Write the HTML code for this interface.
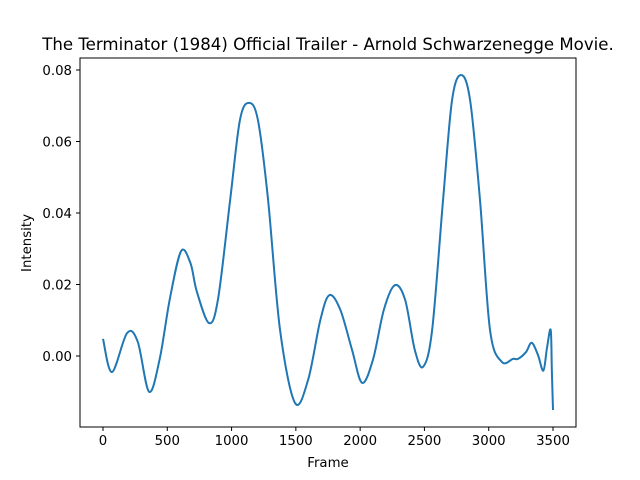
<!DOCTYPE html>
<html><head><meta charset="utf-8"><style>
body{margin:0;background:#fff}
svg{display:block;font-family:"DejaVu Sans","Liberation Sans",sans-serif}
</style></head><body>
<svg id="chart" width="640" height="480">
<rect width="640" height="480" fill="#fff"/>
<text x="328" y="50" text-anchor="middle" font-size="16.6">The Terminator (1984) Official Trailer - Arnold Schwarzenegge Movie.</text>
<g id="xt"></g>
<g id="yt"></g>
<path id="line" fill="none" stroke="#1f77b4" stroke-width="2" stroke-linejoin="round"/>
<rect x="80" y="58" width="496" height="369" fill="none" stroke="#000" stroke-width="1"/>
<text x="328" y="467" text-anchor="middle" font-size="13.3">Frame</text>
<text transform="translate(31,243) rotate(-90)" text-anchor="middle" font-size="13.3">Intensity</text>
</svg>
<script>
const frames=[0,70,187,270,358,440,520,607,680,730,825,895,990,1065,1135,1205,1283,1377,1493,1595,1690,1760,1845,1937,2015,2100,2185,2270,2350,2425,2490,2560,2645,2715,2785,2855,2932,3010,3101,3189,3228,3290,3334,3383,3425,3453,3482,3491,3500];
const intensity=[0.0048,-0.0045,0.0064,0.004,-0.010,-0.001,0.016,0.0293,0.026,0.018,0.0092,0.016,0.044,0.066,0.0708,0.066,0.044,0.0073,-0.0131,-0.0067,0.010,0.017,0.013,0.0017,-0.0075,-0.001,0.013,0.0198,0.0157,0.0017,-0.003,0.0073,0.0437,0.0716,0.0786,0.0716,0.0437,0.0073,-0.0016,-0.0008,-0.0008,0.0011,0.0037,0.0003,-0.0041,0.0022,0.0073,-0.004,-0.0151];
const xTicks=[0,500,1000,1500,2000,2500,3000,3500];
const yTicks=[0,0.02,0.04,0.06,0.08];
const yLabels=["0.00","0.02","0.04","0.06","0.08"];
const X=v=>103+v*450/3500;
const Y=v=>356-v*3575;
const ns="http://www.w3.org/2000/svg";
function mk(t,a,p){const e=document.createElementNS(ns,t);for(const k in a)e.setAttribute(k,a[k]);p.appendChild(e);return e;}
const xt=document.getElementById('xt'),yt=document.getElementById('yt');
xTicks.forEach(v=>{
 const l=mk('line',{x1:X(v),x2:X(v),y1:427,y2:431,stroke:'#000'},xt);
 
 
 const t=mk('text',{x:X(v),y:445,'text-anchor':'middle','font-size':'13.3'},xt);t.textContent=v;
 
 
});
yTicks.forEach((v,i)=>{
 const l=mk('line',{x1:76,x2:80,y1:Y(v),y2:Y(v),stroke:'#000'},yt);
 
 
 const t=mk('text',{x:72,y:Y(v)+5,'text-anchor':'end','font-size':'13.3'},yt);t.textContent=yLabels[i];
 
 
});
const P=frames.map((f,i)=>[X(f),Y(intensity[i])]);
let d='M'+P[0][0]+','+P[0][1];
for(let i=0;i<P.length-1;i++){
 const p0=P[Math.max(0,i-1)],p1=P[i],p2=P[i+1],p3=P[Math.min(P.length-1,i+2)];
 const c1=[p1[0]+(p2[0]-p0[0])/6,p1[1]+(p2[1]-p0[1])/6];
 const c2=[p2[0]-(p3[0]-p1[0])/6,p2[1]-(p3[1]-p1[1])/6];
 d+=`C${c1[0]},${c1[1]} ${c2[0]},${c2[1]} ${p2[0]},${p2[1]}`;
}
document.getElementById('line').setAttribute('d',d);
</script>
</body></html>
